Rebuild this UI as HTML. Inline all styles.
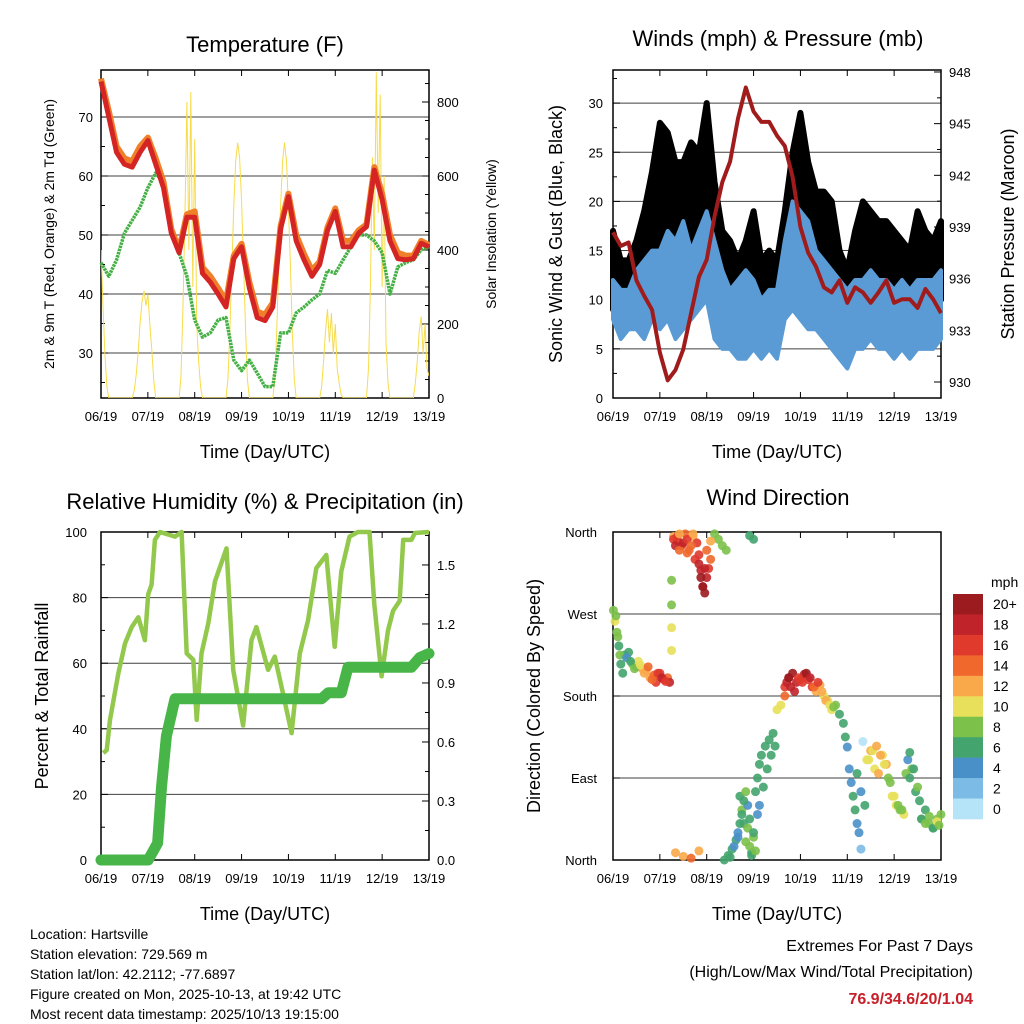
<!DOCTYPE html>
<html><head><meta charset="utf-8">
<style>
html,body{margin:0;padding:0;background:#fff;}
svg{display:block;font-family:"Liberation Sans",Arial,sans-serif;}
</style></head>
<body>
<svg id="c" width="1024" height="1024" viewBox="0 0 1024 1024"></svg>
<script>
// ---------- DATA ----------
const hours4 = [0,4,8,12,16,20,24,28,32,36,40,44,48,52,56,60,64,68,72,76,80,84,88,92,96,100,104,108,112,116,120,124,128,132,136,140,144,148,152,156,160,164,168];
const tempRed = [76,70,64,62,61.5,64,66,62,58,50.3,47,53,53,43.5,42,40,37.8,46,48,41,36,35.5,37.8,51,56.5,49,45.8,43,45,50.8,54,48,48,50.3,51.4,61,56,49,46,45.8,46,48.6,48];
const tempOrange = [76.5,71,65,63,62.5,65,66.5,63,59,51,47.5,53.5,54,44.5,43,41,38.8,46.5,48.5,42,37,36.5,38.5,51.5,57,50,46.8,44,45.5,51.3,54.5,49,49,50.8,51.8,61.5,57,50,47,46.5,46.5,49,48.3];
const dewGreen = [45.3,43,45.8,50.3,52.5,54.7,58,60.5,58.8,51.3,47,43,35.6,32.7,33.4,35.6,36,28.8,27,28.8,26.6,24.3,24.3,33.4,33.4,36.8,37.8,39,40,44,43.5,45.8,48,50,50,49,47,40,44.6,45.3,45.8,47.5,48];
const solar = [400,250,120,30,0,0,0,0,0,0,0,0,0,0,0,0,
 0,20,60,120,200,260,290,250,280,200,130,50,0,0,0,0,0,0,0,0,0,0,0,0,
 0,60,250,500,800,400,827,300,700,200,100,30,0,0,0,0,0,0,0,0,0,0,0,0,
 0,50,180,350,520,640,690,650,530,370,190,50,0,0,0,0,0,0,0,0,0,0,0,0,
 0,50,180,350,520,640,690,640,520,360,180,50,0,0,0,0,0,0,0,0,0,0,0,0,
 0,30,100,180,240,150,230,120,200,80,40,10,0,0,0,0,0,0,0,0,0,0,0,0,
 0,80,300,650,400,880,500,820,300,600,150,40,0,0,0,0,0,0,0,0,0,0,0,0,
 0,40,100,180,220,120,200,80,60];
const pressure = [938.7,937.9,938.1,935.9,935,934.2,931.7,930.1,930.7,931.9,934,936.1,937.1,939.6,941.6,942.8,945.3,947.1,945.7,945.1,945.1,944.3,943.7,941.9,939,937.5,936.7,935.5,935.2,935.9,934.6,935.5,935.2,934.6,935.2,935.9,934.6,934.8,934.8,934.3,935.4,934.8,934];
const windLo = [8,6,7,7,6,8,7,8,6,7,8,9,10,6,5,5,4,4,5,4,5,4,8,9,8,7,7,6,5,4,3,5,5,6,5,5,4,5,4,5,5,5,6];
const windHi = [12,11,11,13,14,15,15,17,16,18,15,17,19,16,13,11,12,13,12,10,11,11,16,20,19,18,15,14,13,12,11,12,12,13,12,12,11,12,11,12,12,12,13];
const gustLo = [9,8,9,10,11,12,13,12,12,11,12,13,14,10,9,7,6,6,7,6,7,7,10,13,14,12,11,10,9,8,7,9,10,11,10,10,9,9,8,9,9,9,10];
const gustHi = [17,14,14,16,19,23,28,27,24,24,26,25,30,22,17,16,14,16,19,14,15,14,19,25,29,24,21,21,20,15,13,17,20,19,18,18,17,16,15,19,17,16,18];
const rhHour = [1.2,2.9,4.6,8.9,12.3,15.7,19.1,22.5,24.2,25.9,27.6,30.2,37.9,41.3,43.9,47.3,49,51.5,54.9,58.4,64.3,67.7,72.8,77.1,79.6,85.6,89,92.4,97.6,101.8,106,110.3,115.4,119.7,123.1,127.3,131.6,137.5,140,143.7,147,149.6,153,154.8,159,160.8,168];
const rhVal = [32.6,33.5,42.7,57,66,71,74,67,81,84,97.6,100,98.6,100,63,61,42.7,63,72,85,95,58,41,67,71,58,62,53,38.7,63,73,89,93,65,88,98.6,100,100,78,56,70,76,79,97.6,97.6,99.7,100];
const prHour = [0,24.2,29,31,33.5,37.9,113,116.4,123.1,126.5,159,163.4,168];
const prVal = [0,0,0.086,0.37,0.63,0.82,0.82,0.85,0.85,0.98,0.98,1.03,1.05];
const dirHourA = [0.2,1,2,3,4,5,6,8,10,12,13,15,17,19,21,22,24,26,28,29,30,30,30,30,31,33,35,37,39,41,43,44,45,46,47,48,49,50,52,54,56,58,70,72,32,36,40,44,
 57,59,61,63,64,65,66,67,68,69,70,71,72,73,74,75,76,78,80,82,84,86,88,90,92,94,96,98,100,102,104,106,108,110,112,114,116,118,119,120,121,122,123,124,125,126,127,128,130,132,134,136,138,140,141,143,145,147,149,150,151,152,153,155,157,158,160,162,164,166,168];
const dirDegA = [274,262,250,235,215,205,225,228,215,212,218,210,208,200,203,195,205,198,200,195,307,280,255,230,355,350,345,358,340,355,348,335,318,300,293,310,320,330,358,352,345,340,356,352,8,4,2,10,
 0,5,12,22,30,70,55,40,20,60,45,8,25,75,90,105,115,125,132,139,165,170,190,200,205,195,198,204,198,190,185,192,180,175,165,170,160,150,135,124,100,85,70,55,40,30,12,130,110,120,100,95,115,105,90,70,60,55,50,95,110,118,100,75,65,45,55,40,35,45,50];
const dirSpdA = [9,10,8,7,6,7,6,7,8,7,11,12,13,13,15,16,17,16,15,18,8,9,10,10,13,16,17,14,15,13,16,17,18,19,20,18,17,15,9,8,9,8,6,7,12,13,14,12,
 6,7,7,6,5,7,8,6,9,5,7,6,8,7,6,7,7,7,6,6,10,10,17,19,20,18,17,19,16,17,13,12,11,11,10,8,7,7,6,5,4,5,6,7,5,4,3,1,10,12,11,13,10,12,9,10,11,9,10,9,4,7,8,6,7,8,6,9,7,8,9];
const dirHourB = [31,32,33,34,36,38,40,42,44,45,46,47,48,50,34,38,41,60,62,64,65,66,67,68,69,70,71,72,73,74,75,77,79,81,83,88,89,90,91,93,95,97,99,101,103,105,107,109,111,113,125,127,129,131,133,135,137,139,142,144,146,148,152,154,156,158,160,162,164,166,167,1.5,2.5,3.5,7,9,11,14,16,18,20,23,25,27];
const dirDegB = [352,345,355,340,348,352,345,330,325,310,300,320,340,350,358,337,358,3,15,25,40,50,65,75,35,15,5,30,10,50,60,80,100,115,125,180,195,200,190,185,200,195,205,200,190,195,185,175,170,168,95,75,60,110,120,125,115,105,85,70,60,55,90,100,80,45,40,48,35,42,38,268,245,225,222,218,210,214,205,212,198,205,200,196];
const dirSpdB = [16,18,17,15,19,16,15,17,19,20,20,18,14,12,13,14,12,6,5,4,6,7,7,8,8,9,7,6,8,4,5,6,6,6,6,14,18,20,19,18,17,16,20,18,14,16,13,12,10,9,6,5,6,10,11,12,13,11,9,10,9,8,6,7,8,7,8,9,7,10,8,8,9,8,5,6,8,11,12,14,15,16,18,17];
const barLabels = ["20+","18","16","14","12","10","8","6","4","2","0"];
const barColors = ["#9b1b1f","#c0232a","#e03a2c","#f0682c","#f9a94a","#e8e05a","#7cc14a","#44a46e","#4a90c8","#7cbbe6","#b5e3f7"];
const dayLabels = ["06/19","07/19","08/19","09/19","10/19","11/19","12/19","13/19"];
const dirHour = dirHourA.concat(dirHourB);
const dirDeg = dirDegA.concat(dirDegB);
const dirSpd = dirSpdA.concat(dirSpdB);

// ---------- HELPERS ----------
const NS="http://www.w3.org/2000/svg";
const svg=document.getElementById('c');
function mk(tag,attrs,parent){const e=document.createElementNS(NS,tag);for(const k in attrs)e.setAttribute(k,attrs[k]);(parent||svg).appendChild(e);return e;}
function txt(s,x,y,size,anchor,parent,extra){const e=mk('text',Object.assign({x:x,y:y,'font-size':size,'text-anchor':anchor||'middle',fill:'#000'},extra||{}),parent);e.textContent=s;return e;}
function pathFrom(xs,ys){return xs.map((x,i)=>(i?'L':'M')+x.toFixed(1)+','+ys[i].toFixed(1)).join('');}
const PW=328,PH=328;
function xh(x0,h){return x0+h*PW/168;}

function frame(x0,y0,name){
  const g=mk('g',{});
  
  
  mk('rect',{x:x0,y:y0,width:PW,height:PH,fill:'none',stroke:'#000','stroke-width':1.5},g);
  for(let d=0;d<=7;d++){const x=xh(x0,d*24);
    mk('line',{x1:x,y1:y0+PH,x2:x,y2:y0+PH-6,stroke:'#000','stroke-width':1},g);
    mk('line',{x1:x,y1:y0,x2:x,y2:y0+6,stroke:'#000','stroke-width':1},g);
    const t=txt(dayLabels[d],x,y0+PH+23,13,'middle',g);
    
    
  }
  const xt=txt('Time (Day/UTC)',x0+PW/2,y0+PH+60,18,'middle',g);
  
  
  return g;
}
function grid(g,x0,ys){ys.forEach(y=>mk('line',{x1:x0,y1:y,x2:x0+PW,y2:y,stroke:'#000','stroke-width':1,opacity:0.75},g));}
function ticksL(g,x0,y,len){mk('line',{x1:x0,y1:y,x2:x0+len,y2:y,stroke:'#000','stroke-width':1},g);}
function ticksR(g,x1,y,len){mk('line',{x1:x1,y1:y,x2:x1-len,y2:y,stroke:'#000','stroke-width':1},g);}

// ---------- PANEL 1: TEMPERATURE ----------
(function(){
  const x0=101,y0=70;
  const yT=v=>353-(v-30)*5.9, yS=v=>398-v*0.37;
  const g=frame(x0,y0,'temperature');
  grid(g,x0,[30,40,50,60,70].map(yT));
  for(let v=25;v<=75;v+=5){const y=yT(v);if(y<y0||y>y0+PH)continue;ticksL(g,x0,y,v%10===0?7:4);
    if(v%10===0){const t=txt(String(v),x0-8,y+5,13,'end',g);}}
  for(let v=0;v<=850;v+=50){const y=yS(v);ticksR(g,x0+PW,y,v%200===0?7:4);
    if(v%200===0){const t=txt(String(v),x0+PW+8,y+5,13,'start',g);}}
  const cp=mk('clipPath',{id:'cp1'});mk('rect',{x:x0,y:y0,width:PW,height:PH},cp);
  const s=mk('path',{d:pathFrom(solar.map((v,i)=>xh(x0,i)),solar.map(yS)),fill:'none',stroke:'#f7dc4a','stroke-width':1,'clip-path':'url(#cp1)'});
  
  const gr=mk('path',{d:pathFrom(hours4.map(h=>xh(x0,h)),dewGreen.map(yT)),fill:'none',stroke:'#45b045','stroke-width':3.5,'stroke-dasharray':'2.5 0.8','stroke-linejoin':'round'});
  
  const o=mk('path',{d:pathFrom(hours4.map(h=>xh(x0,h)),tempOrange.map(yT)),fill:'none',stroke:'#f07f2a','stroke-width':6,'stroke-linejoin':'round'});
  
  const r=mk('path',{d:pathFrom(hours4.map(h=>xh(x0,h)),tempRed.map(yT)),fill:'none',stroke:'#d42424','stroke-width':5,'stroke-linejoin':'round'});
  
  const t=txt('Temperature (F)',265,52,22,'middle');
  const yl=txt('2m & 9m T (Red, Orange) & 2m Td (Green)',0,0,14,'middle',null,{transform:'translate(54,234) rotate(-90)'});
  
  const yr=txt('Solar Insolation (Yellow)',0,0,14,'middle',null,{transform:'translate(496,234) rotate(-90)'});
  
})();

// ---------- PANEL 2: WINDS ----------
(function(){
  const x0=613,y0=70;
  const yW=v=>398-v*9.83, yP=p=>382-(p-930)*51.67/3;
  const g=frame(x0,y0,'winds');
  grid(g,x0,[5,10,15,20,25,30].map(yW));
  for(let v=0;v<=33;v+=2.5){const y=yW(v);ticksL(g,x0,y,v%5===0?7:4);
    if(v%5===0){const t=txt(String(v),x0-10,y+5,13,'end',g);}}
  for(let k=-1;k<=13;k++){const p=930+k*1.5;const y=yP(p);if(y<y0||y>y0+PH)continue;const maj=(k%2===0);ticksR(g,x0+PW,y,maj?7:4);
    if(maj){const t=txt(String(p),x0+PW+8,y+5,13,'start',g);}}
  const xs=hours4.map(h=>xh(x0,h));
  const gb=mk('path',{d:pathFrom(xs.concat(xs.slice().reverse()),gustHi.map(yW).concat(gustLo.map(yW).reverse()))+'Z',fill:'#000',stroke:'#000','stroke-width':6,'stroke-linejoin':'round'});
  
  const wb=mk('path',{d:pathFrom(xs.concat(xs.slice().reverse()),windHi.map(yW).concat(windLo.map(yW).reverse()))+'Z',fill:'#5a9bd5',stroke:'#5a9bd5','stroke-width':4,'stroke-linejoin':'round'});
  
  const pl=mk('path',{d:pathFrom(xs,pressure.map(yP)),fill:'none',stroke:'#a01c1c','stroke-width':4,'stroke-linejoin':'round'});
  
  const t=txt('Winds (mph) & Pressure (mb)',778,46,22,'middle');
  const yl=txt('Sonic Wind & Gust (Blue, Black)',0,0,18,'middle',null,{transform:'translate(562,234) rotate(-90)'});
  
  const yr=txt('Station Pressure (Maroon)',0,0,18,'middle',null,{transform:'translate(1014,234) rotate(-90)'});
  
})();

// ---------- PANEL 3: RH & PRECIP ----------
(function(){
  const x0=101,y0=532;
  const yR=v=>860-v*3.28, yPr=p=>860-p*196.7;
  const g=frame(x0,y0,'humidity');
  grid(g,x0,[20,40,60,80].map(yR));
  for(let v=0;v<=100;v+=10){const y=yR(v);ticksL(g,x0,y,v%20===0?7:4);
    if(v%20===0){const t=txt(String(v),x0-14,y+5,13,'end',g);}}
  for(let k=0;k<=11;k++){const p=k*0.15;const y=yPr(p);ticksR(g,x0+PW,y,k%2===0?7:4);
    if(k%2===0){const t=txt(p.toFixed(1),x0+PW+8,y+5,13,'start',g);}}
  const rh=mk('path',{d:pathFrom(rhHour.map(h=>xh(x0,h)),rhVal.map(yR)),fill:'none',stroke:'#92c84c','stroke-width':4.5,'stroke-linejoin':'round'});
  
  const pr=mk('path',{d:pathFrom(prHour.map(h=>xh(x0,h)),prVal.map(yPr)),fill:'none',stroke:'#48b548','stroke-width':11,'stroke-linejoin':'round','stroke-linecap':'round'});
  
  const t=txt('Relative Humidity (%) & Precipitation (in)',265,509,22,'middle');
  const yl=txt('Percent & Total Rainfall',0,0,18,'middle',null,{transform:'translate(48,696) rotate(-90)'});
  
})();

// ---------- PANEL 4: WIND DIRECTION ----------
(function(){
  const x0=613,y0=532;
  const yD=d=>860-d*328/360;
  const g=frame(x0,y0,'wind-direction');
  grid(g,x0,[90,180,270].map(yD));
  const names=['North','East','South','West','North'];
  for(let k=0;k<=4;k++){const y=yD(k*90);ticksL(g,x0,y,7);
    const t=txt(names[k],x0-16,y+5,13,'end',g);}
  const n=Math.min(dirHour.length,dirDeg.length,dirSpd.length);
  for(let i=0;i<n;i++){
    const b=Math.min(10,Math.floor(dirSpd[i]/2));
    const c=mk('circle',{cx:xh(x0,dirHour[i]),cy:yD(dirDeg[i]),r:4.5,fill:barColors[10-b],opacity:0.9});
    
    
  }
  const t=txt('Wind Direction',778,505,22,'middle');
  const yl=txt('Direction (Colored By Speed)',0,0,18,'middle',null,{transform:'translate(540,696) rotate(-90)'});
  
  const lg=mk('g',{});
  
  txt('mph',991,587,14,'start',lg);
  const bh=225/11;
  for(let i=0;i<11;i++){
    mk('rect',{x:953,y:594+i*bh,width:30,height:bh+0.3,fill:barColors[i]},lg);
    txt(barLabels[i],993,594+i*bh+bh/2+5,14,'start',lg);
  }
})();

// ---------- FOOTER TEXT ----------
(function(){
  const info=['Location: Hartsville','Station elevation: 729.569 m','Station lat/lon: 42.2112; -77.6897','Figure created on Mon, 2025-10-13, at 19:42 UTC','Most recent data timestamp: 2025/10/13 19:15:00'];
  const g=mk('g',{});
  info.forEach((s,i)=>txt(s,30,939+i*20,14,'start',g));
  const e=mk('g',{});
  txt('Extremes For Past 7 Days',973,951,16,'end',e);
  txt('(High/Low/Max Wind/Total Precipitation)',973,977,16,'end',e);
  txt('76.9/34.6/20/1.04',973,1004,16,'end',e,{fill:'#c8202a','font-weight':'bold'});
})();
</script>
</body></html>
